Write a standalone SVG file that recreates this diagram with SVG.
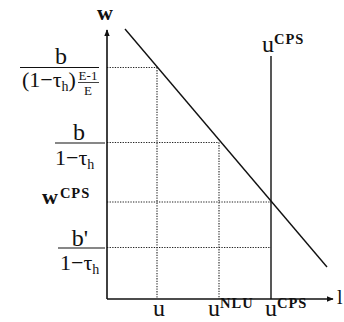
<svg xmlns="http://www.w3.org/2000/svg" width="344" height="322" viewBox="0 0 344 322">
<style>
text{font-family:"Liberation Serif","Times New Roman",serif;fill:#111}
.ax{stroke:#111;stroke-width:1.6;fill:none}
.dot{stroke:#222;stroke-width:1.1;stroke-dasharray:1.3 1.3;fill:none}
.ln{stroke:#111;stroke-width:1.4;fill:none}
.fr{stroke:#111;stroke-width:1.1}
.big{font-size:24px}
.sup{font-size:14.5px;font-weight:bold;letter-spacing:1px}
.sub{font-size:14px}
</style>
<defs>
<marker id="ar" viewBox="0 0 10 10" refX="9" refY="5" markerWidth="7" markerHeight="7" markerUnits="userSpaceOnUse" orient="auto">
<path d="M0,1 L10,5 L0,9 Z" fill="#111"/>
</marker>
</defs>
<g id="connectors">
<line class="dot" x1="107" y1="67.5" x2="157" y2="67.5"/>
<line class="dot" x1="157" y1="67.5" x2="157" y2="299"/>
<line class="dot" x1="107" y1="142.5" x2="219" y2="142.5"/>
<line class="dot" x1="219" y1="142.5" x2="219" y2="299"/>
<line class="dot" x1="107" y1="202" x2="271" y2="202"/>
<line class="dot" x1="107" y1="247.5" x2="271" y2="247.5"/>
<line class="ln" x1="125" y1="29" x2="327" y2="267"/>
<line class="ln" x1="271" y1="56" x2="271" y2="299"/>
<line class="ax" x1="107" y1="299" x2="107" y2="30" marker-end="url(#ar)"/>
<line class="ax" x1="107" y1="299" x2="333" y2="299" marker-end="url(#ar)"/>
</g>
<g id="axis-w"><text x="105" y="20" font-size="22" font-weight="bold" text-anchor="middle">w</text></g>
<g id="axis-l"><text x="337" y="304" font-size="20">l</text></g>
<g id="label-top">
<text class="big" x="61" y="64" text-anchor="middle">b</text>
<line class="fr" x1="20" y1="67.5" x2="99" y2="67.5"/>
<text x="22" y="87" font-size="22">(1−τ<tspan class="sub" dy="4">h</tspan><tspan dy="-4">)</tspan></text>
<text x="88" y="80" font-size="13" text-anchor="middle">E-1</text>
<line x1="78" y1="82.5" x2="99" y2="82.5" stroke="#111" stroke-width="0.8"/>
<text x="88" y="95" font-size="13" text-anchor="middle">E</text>
</g>
<g id="label-mid">
<text class="big" x="79" y="140" text-anchor="middle">b</text>
<line class="fr" x1="55" y1="143" x2="105" y2="143"/>
<text x="55" y="165" font-size="22">1−τ<tspan class="sub" dy="4">h</tspan></text>
</g>
<g id="label-wcps">
<text x="42" y="204" font-size="22" font-weight="bold">w<tspan class="sup" dx="2" dy="-6">CPS</tspan></text>
</g>
<g id="label-low">
<text class="big" x="80" y="246" text-anchor="middle">b'</text>
<line class="fr" x1="58" y1="248" x2="105" y2="248"/>
<text x="60" y="270" font-size="22">1−τ<tspan class="sub" dy="4">h</tspan></text>
</g>
<g id="label-u"><text class="big" x="153" y="316">u</text></g>
<g id="label-unlu"><text class="big" x="208" y="316">u<tspan class="sup" dy="-8">NLU</tspan></text></g>
<g id="label-ucps-bottom"><text class="big" x="265" y="316">u<tspan class="sup" dy="-8">CPS</tspan></text></g>
<g id="label-ucps-top"><text class="big" x="262" y="52">u<tspan class="sup" dy="-8">CPS</tspan></text></g>
</svg>
